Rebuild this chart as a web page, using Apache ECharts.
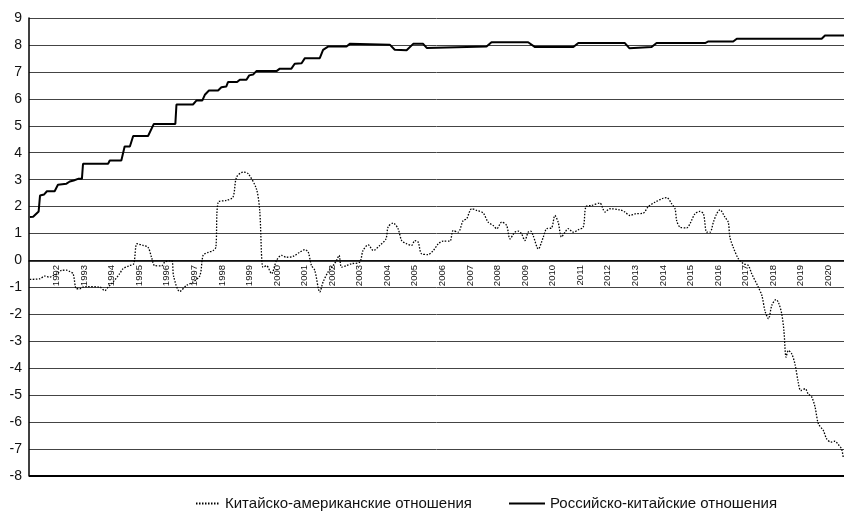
<!DOCTYPE html>
<html>
<head>
<meta charset="utf-8">
<script src="https://cdn.jsdelivr.net/npm/echarts@6/dist/echarts.min.js"></script>
<style>
  html, body { margin: 0; padding: 0; background: #fff; }
  #chart { width: 844px; height: 521px; }
</style>
</head>
<body>
<div id="chart"></div>
<script>
// Китайско-американские отношения (пунктир): год, значение
const usYears = [
  1991.03, 1991.39, 1991.57, 1991.75, 1991.87, 1991.99, 1992.18, 1992.36, 1992.48, 1992.60,
  1992.72, 1992.84, 1992.96, 1993.08, 1993.57, 1993.75, 1993.87, 1994.05, 1994.29, 1994.41,
  1994.65, 1994.80, 1994.92, 1995.14, 1995.32, 1995.45, 1995.56, 1995.81, 1995.93, 1996.17,
  1996.25, 1996.47, 1996.71, 1996.95, 1997.20, 1997.32, 1997.50, 1997.68, 1997.78, 1997.86,
  1998.16, 1998.40, 1998.53, 1998.77, 1998.95, 1999.25, 1999.37, 1999.49, 1999.62, 1999.80,
  1999.98, 2000.16, 2000.34, 2000.58, 2000.83, 2001.01, 2001.13, 2001.25, 2001.37, 2001.55,
  2001.67, 2001.85, 2002.03, 2002.16, 2002.25, 2002.34, 2002.52, 2002.70, 2003.00, 2003.12,
  2003.31, 2003.49, 2003.73, 2003.95, 2004.03, 2004.21, 2004.39, 2004.52, 2004.70, 2004.88,
  2005.00, 2005.12, 2005.24, 2005.48, 2005.67, 2005.85, 2006.03, 2006.27, 2006.39, 2006.57,
  2006.75, 2006.88, 2007.06, 2007.24, 2007.48, 2007.66, 2007.84, 2007.97, 2008.15, 2008.33,
  2008.45, 2008.63, 2008.75, 2008.87, 2008.99, 2009.11, 2009.20, 2009.29, 2009.48, 2009.66,
  2009.78, 2009.96, 2010.08, 2010.20, 2010.32, 2010.45, 2010.56, 2010.75, 2010.93, 2011.11,
  2011.21, 2011.41, 2011.71, 2011.90, 2012.08, 2012.44, 2012.62, 2012.80, 2012.99, 2013.29,
  2013.47, 2013.71, 2014.01, 2014.14, 2014.32, 2014.44, 2014.50, 2014.62, 2014.86, 2014.98,
  2015.16, 2015.34, 2015.47, 2015.59, 2015.71, 2015.83, 2015.95, 2016.07, 2016.25, 2016.37,
  2016.43, 2016.55, 2016.74, 2016.92, 2017.10, 2017.22, 2017.46, 2017.59, 2017.71, 2017.83,
  2017.95, 2018.10, 2018.19, 2018.31, 2018.39, 2018.47, 2018.55, 2018.67, 2018.79, 2018.91,
  2019.00, 2019.16, 2019.27, 2019.40, 2019.52, 2019.64, 2019.82, 2019.94, 2020.09, 2020.24,
  2020.36, 2020.48, 2020.54
];
const usValues = [
  -0.70, -0.68, -0.58, -0.62, -0.56, -0.53, -0.37, -0.36, -0.41, -0.49,
  -1.05, -1.05, -0.99, -0.97, -0.99, -1.12, -0.99, -0.80, -0.49, -0.31,
  -0.19, -0.12, 0.62, 0.56, 0.49, 0.10, -0.19, -0.20, -0.06, 0.00,
  -0.60, -1.15, -0.93, -0.80, -0.56, 0.20, 0.30, 0.37, 0.49, 2.16,
  2.23, 2.35, 3.09, 3.28, 3.22, 2.66, 1.86, -0.25, -0.20, -0.49,
  0.00, 0.19, 0.12, 0.15, 0.31, 0.40, 0.31, -0.19, -0.37, -1.17,
  -0.80, -0.43, -0.19, 0.00, 0.19, -0.25, -0.19, -0.12, -0.06, 0.37,
  0.58, 0.37, 0.56, 0.80, 1.24, 1.39, 1.18, 0.74, 0.62, 0.56,
  0.74, 0.68, 0.25, 0.22, 0.37, 0.62, 0.72, 0.72, 1.11, 1.05,
  1.48, 1.55, 1.92, 1.86, 1.76, 1.42, 1.30, 1.18, 1.42, 1.30,
  0.80, 1.05, 1.09, 0.99, 0.74, 1.05, 1.09, 0.93, 0.43, 0.87,
  1.18, 1.21, 1.67, 1.42, 0.87, 1.05, 1.18, 1.05, 1.14, 1.24,
  2.00, 2.04, 2.13, 1.80, 1.92, 1.88, 1.80, 1.67, 1.73, 1.76,
  2.00, 2.16, 2.31, 2.33, 2.10, 1.92, 1.48, 1.24, 1.21, 1.36,
  1.73, 1.82, 1.73, 1.05, 1.05, 1.42, 1.73, 1.88, 1.61, 1.42,
  0.87, 0.49, 0.06, -0.12, -0.19, -0.49, -0.99, -1.30, -1.90, -2.16,
  -1.67, -1.45, -1.55, -1.98, -2.60, -3.59, -3.34, -3.46, -3.84, -4.52,
  -4.83, -4.76, -4.95, -5.07, -5.44, -6.06, -6.31, -6.62, -6.74, -6.71,
  -6.83, -6.99, -7.30
];

// Российско-китайские отношения (сплошная): год, значение
const rcYears = [
  1991.03, 1991.15, 1991.35, 1991.40, 1991.55, 1991.65, 1991.93, 1992.05, 1992.36, 1992.48,
  1992.62, 1992.78, 1992.92, 1992.96, 1993.87, 1993.93, 1994.35, 1994.47, 1994.66, 1994.78,
  1995.32, 1995.53, 1996.31, 1996.35, 1996.95, 1997.08, 1997.29, 1997.38, 1997.53, 1997.86,
  1997.98, 1998.16, 1998.22, 1998.55, 1998.65, 1998.89, 1998.99, 1999.13, 1999.25, 1999.98,
  2000.10, 2000.52, 2000.64, 2000.89, 2001.01, 2001.55, 2001.67, 2001.85, 2002.52, 2002.64,
  2004.09, 2004.27, 2004.70, 2004.94, 2005.30, 2005.43, 2007.60, 2007.78, 2009.11, 2009.36,
  2010.75, 2010.93, 2012.62, 2012.78, 2013.59, 2013.77, 2015.53, 2015.65, 2016.55, 2016.68,
  2019.76, 2019.88, 2020.57
];
const rcValues = [
  1.61, 1.62, 1.82, 2.41, 2.45, 2.57, 2.57, 2.81, 2.85, 2.93,
  2.97, 3.03, 3.03, 3.59, 3.59, 3.71, 3.71, 4.23, 4.23, 4.62,
  4.62, 5.07, 5.07, 5.79, 5.79, 5.94, 5.94, 6.15, 6.31, 6.31,
  6.43, 6.46, 6.62, 6.62, 6.71, 6.71, 6.87, 6.90, 7.03, 7.03,
  7.12, 7.12, 7.30, 7.32, 7.51, 7.51, 7.82, 7.94, 7.94, 8.04,
  8.01, 7.82, 7.80, 8.04, 8.04, 7.89, 7.94, 8.10, 8.10, 7.92,
  7.92, 8.07, 8.07, 7.88, 7.92, 8.07, 8.07, 8.13, 8.13, 8.23,
  8.23, 8.35, 8.35
];

const usName = 'Китайско-американские отношения';
const rcName = 'Российско-китайские отношения';
const font = 'Liberation Sans, Arial, Helvetica, sans-serif';

let myChart = echarts.init(document.getElementById('chart'));
myChart.setOption({
  animation: false,
  textStyle: { fontFamily: font },
  grid: {
    left: 29,
    right: 0,
    top: 18,
    bottom: 45,
    containLabel: false
  },
  legend: [
    {
      data: [usName],
      left: 190,
      top: 491,
      itemWidth: 24,
      itemHeight: 14,
      itemStyle: { color: 'transparent', borderWidth: 0 },
      textStyle: { fontSize: 15, color: '#111', fontFamily: font }
    },
    {
      data: [rcName],
      left: 503,
      top: 491,
      itemWidth: 36,
      itemHeight: 14,
      itemStyle: { color: 'transparent', borderWidth: 0 },
      textStyle: { fontSize: 15, color: '#111', fontFamily: font }
    }
  ],
  xAxis: {
    type: 'value',
    min: 1991,
    max: 2020.57,
    interval: 1,
    axisLine: { onZero: true, lineStyle: { color: '#000', width: 1.5 } },
    axisTick: { show: false },
    splitLine: { show: false },
    axisLabel: {
      rotate: 90,
      // подписи годов сразу под линией нуля
      margin: -211,
      fontSize: 9.5,
      color: '#111',
      showMinLabel: false,
      showMaxLabel: false,
      formatter: function (v) {
        if (Math.abs(v - Math.round(v)) > 1e-6) return '';
        return String(Math.round(v));
      }
    }
  },
  yAxis: {
    type: 'value',
    min: -8,
    max: 9,
    interval: 1,
    axisLine: { show: true, lineStyle: { color: '#000', width: 1.5 } },
    axisTick: { show: false },
    axisLabel: { fontSize: 14, color: '#111', margin: 7 },
    splitLine: { lineStyle: { color: '#444', width: 1 } }
  },
  series: [
    {
      name: usName,
      type: 'line',
      symbol: 'none',
      smooth: 0.3,
      data: usYears.map((y, i) => [y, usValues[i]]),
      lineStyle: { color: '#000', width: 1.3, type: [1.5, 1.5] },
      itemStyle: { color: '#000' },
      z: 3
    },
    {
      name: rcName,
      type: 'line',
      symbol: 'none',
      data: rcYears.map((y, i) => [y, rcValues[i]]),
      lineStyle: { color: '#000', width: 2 },
      itemStyle: { color: '#000' },
      z: 3,
      // нижняя рамка графика
      markLine: {
        silent: true,
        symbol: 'none',
        label: { show: false },
        lineStyle: { color: '#000', width: 2, type: 'solid' },
        data: [{ yAxis: -8 }]
      }
    }
  ]
});
</script>
</body>
</html>
